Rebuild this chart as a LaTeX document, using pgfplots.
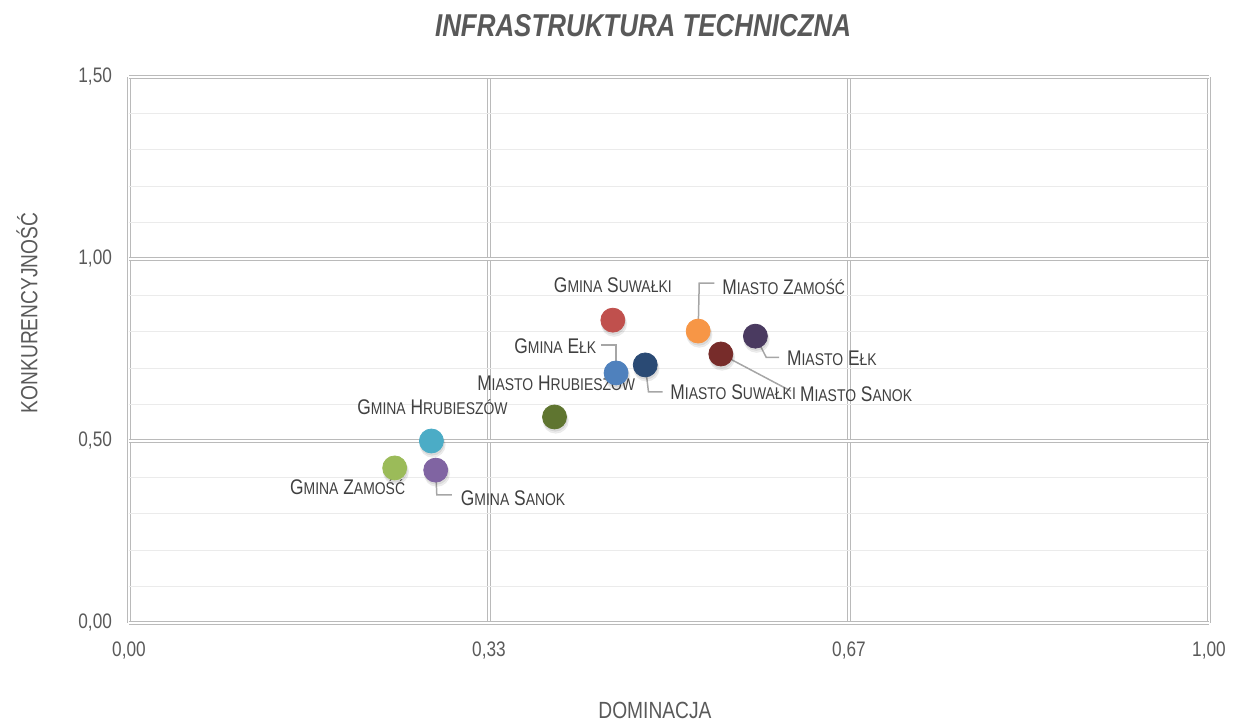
\documentclass[border=0pt]{standalone}
\usepackage{fontspec}
\setmainfont[FakeStretch=0.82]{Liberation Sans}
\usepackage{pgfplots}
\pgfplotsset{compat=1.18}
\definecolor{txt}{HTML}{404040}
\definecolor{tickc}{HTML}{595959}
\definecolor{majg}{HTML}{BABABA}
\definecolor{ming}{HTML}{EBEBEB}
\definecolor{lead}{HTML}{A6A6A6}
\definecolor{cGS}{HTML}{C0504D}
\definecolor{cMZ}{HTML}{F79646}
\definecolor{cME}{HTML}{4A3A60}
\definecolor{cMS}{HTML}{772C2A}
\definecolor{cMSu}{HTML}{2A4A74}
\definecolor{cGE}{HTML}{4F81BD}
\definecolor{cMH}{HTML}{5F7530}
\definecolor{cGH}{HTML}{4BACC6}
\definecolor{cGSa}{HTML}{8064A2}
\definecolor{cGZ}{HTML}{9BBB59}
\newcommand\sm[1]{{\fontsize{8.5}{10}\selectfont #1}}
\pgfplotsset{pt/.style={only marks, mark=*, mark size=6pt, color=#1, mark options={draw=none, fill=#1}}}
\begin{document}
\begin{tikzpicture}
\useasboundingbox (-64.5pt,-49.5pt) rectangle (554.5pt,311.5pt);
\begin{axis}[
  scale only axis, width=540pt, height=273pt,
  xmin=0, xmax=1, ymin=0, ymax=1.5,
  xtick={0,0.333333,0.666667,1},
  xticklabels={{0,00},{0,33},{0,67},{1,00}},
  ytick={0,0.5,1,1.5},
  yticklabels={{0,00},{0,50},{1,00},{1,50}},
  minor x tick num=4, minor y tick num=4,
  grid=both,
  major grid style={line width=0.55pt, draw=majg, double=white, double distance=0.75pt},
  minor grid style={line width=0.6pt, draw=ming},
  axis line style={draw=none},
  major tick length=0pt, minor tick length=0pt,
  tick style={draw=none},
  ticklabel style={font=\fontsize{10.5}{12}\selectfont, text=tickc},
  xticklabel style={yshift=-6pt},
  yticklabel style={xshift=-5pt},
  xlabel={DOMINACJA},
  ylabel={KONKURENCYJNOŚĆ},
  label style={font=\fontsize{11.7}{14}\selectfont, text=tickc},
  xlabel style={at={(axis description cs:0.487,0)}, yshift=-43.5pt, anchor=center},
  ylabel style={at={(axis description cs:0,0.568)}, yshift=51pt, anchor=center},
  clip=false,
]
% shadows
\addplot[only marks, draw=none, color=gray, mark=*, mark size=6.4pt, mark options={draw=none, fill=black, opacity=0.07, xshift=0.6pt, yshift=-1.8pt}] coordinates {
(0.448,0.832) (0.527,0.802) (0.580,0.788) (0.548,0.739) (0.478,0.709)
(0.451,0.687) (0.394,0.566) (0.280,0.500) (0.284,0.420) (0.246,0.426)};
\addplot[only marks, draw=none, color=gray, mark=*, mark size=6pt, mark options={draw=none, fill=black, opacity=0.08, xshift=0.4pt, yshift=-1.2pt}] coordinates {
(0.448,0.832) (0.527,0.802) (0.580,0.788) (0.548,0.739) (0.478,0.709)
(0.451,0.687) (0.394,0.566) (0.280,0.500) (0.284,0.420) (0.246,0.426)};
% leader lines
\draw[lead, line width=0.75pt] (axis cs:0.527,0.802) -- (axis cs:0.528,0.934) -- (axis cs:0.542,0.934);
\draw[lead, line width=0.75pt] (axis cs:0.437,0.764) -- (axis cs:0.451,0.764) -- (axis cs:0.451,0.687);
\draw[lead, line width=0.75pt] (axis cs:0.478,0.709) -- (axis cs:0.481,0.635) -- (axis cs:0.494,0.635);
\draw[lead, line width=0.75pt] (axis cs:0.548,0.739) -- (axis cs:0.613,0.637);
\draw[lead, line width=0.75pt] (axis cs:0.580,0.788) -- (axis cs:0.590,0.730) -- (axis cs:0.602,0.730);
\draw[lead, line width=0.75pt] (axis cs:0.284,0.420) -- (axis cs:0.285,0.352) -- (axis cs:0.299,0.352);
% points
\addplot[pt=cGS] coordinates {(0.448,0.832)};
\addplot[pt=cMZ] coordinates {(0.527,0.802)};
\addplot[pt=cME] coordinates {(0.580,0.788)};
\addplot[pt=cMS] coordinates {(0.548,0.739)};
\addplot[pt=cMSu] coordinates {(0.478,0.709)};
\addplot[pt=cGE] coordinates {(0.451,0.687)};
\addplot[pt=cMH] coordinates {(0.394,0.566)};
\addplot[pt=cGH] coordinates {(0.280,0.500)};
\addplot[pt=cGSa] coordinates {(0.284,0.420)};
\addplot[pt=cGZ] coordinates {(0.246,0.426)};
% labels
\begin{scope}[every node/.style={inner sep=0pt, text=txt, font=\fontsize{10.6}{12}\selectfont}]
\node[anchor=center] at (axis cs:0.448,0.929) {G\sm{MINA} S\sm{UWAŁKI}};
\node[anchor=west] at (axis cs:0.549,0.923) {M\sm{IASTO} Z\sm{AMOŚĆ}};
\node[anchor=east] at (axis cs:0.433,0.761) {G\sm{MINA} E\sm{ŁK}};
\node[anchor=east] at (axis cs:0.469,0.659) {M\sm{IASTO} H\sm{RUBIESZÓW}};
\node[anchor=west] at (axis cs:0.501,0.635) {M\sm{IASTO} S\sm{UWAŁKI}};
\node[anchor=west] at (axis cs:0.621,0.629) {M\sm{IASTO} S\sm{ANOK}};
\node[anchor=west] at (axis cs:0.609,0.728) {M\sm{IASTO} E\sm{ŁK}};
\node[anchor=center] at (axis cs:0.281,0.593) {G\sm{MINA} H\sm{RUBIESZÓW}};
\node[anchor=east] at (axis cs:0.256,0.374) {G\sm{MINA} Z\sm{AMOŚĆ}};
\node[anchor=west] at (axis cs:0.307,0.343) {G\sm{MINA} S\sm{ANOK}};
\end{scope}
\node[anchor=center, text=tickc, font=\fontsize{15.8}{18}\selectfont\bfseries\itshape] at (axis description cs:0.476,1.095) {INFRASTRUKTURA TECHNICZNA};
\end{axis}
\end{tikzpicture}
\end{document}
